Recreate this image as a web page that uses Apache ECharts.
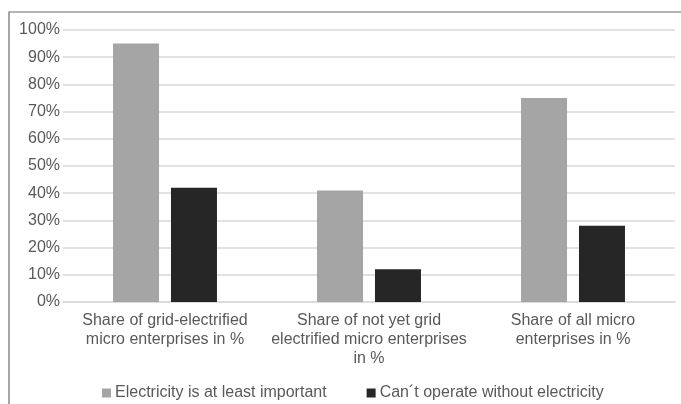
<!DOCTYPE html>
<html><head><meta charset="utf-8">
<script src="https://cdn.jsdelivr.net/npm/echarts@6/dist/echarts.min.js"></script>
<style>html,body{margin:0;padding:0;background:#fff}#c{width:681px;height:404px}</style>
</head><body><div id="c"></div>
<script>
const categories = ["Share of grid-electrified\nmicro enterprises in %", "Share of not yet grid\nelectrified micro enterprises\nin %", "Share of all micro\nenterprises in %"];
const seriesNames = ["Electricity is at least important", "Can\u00b4t operate without electricity"];
const importantVals = [95, 41, 75];
const cantOperateVals = [42, 12, 28];
const yTicks = [0, 10, 20, 30, 40, 50, 60, 70, 80, 90, 100];

const chart = echarts.init(document.getElementById('c'));
const font = 'Liberation Sans, Arial, sans-serif';
chart.setOption({
  animation: false,
  graphic: [{
    type: 'rect', shape: {x: 9, y: 12, width: 700, height: 420},
    style: {fill: 'none', stroke: '#6b6b6b', lineWidth: 1.2}, z: -1
  }],
  legend: {
    top: 385, left: 102, itemWidth: 9, itemHeight: 9, itemGap: 40,
    icon: 'rect', padding: 0,
    textStyle: {color: '#595959', fontSize: 16, fontFamily: font, padding: [0, 0, 0, -1]},
    data: seriesNames
  },
  grid: {left: 63, right: 6, top: 30, bottom: 102, containLabel: false},
  xAxis: {
    type: 'category', data: categories,
    axisLine: {lineStyle: {color: '#d9d9d9', width: 1.5}},
    axisTick: {show: false},
    axisLabel: {color: '#595959', fontSize: 16, fontFamily: font, lineHeight: 19, margin: 9, interval: 0}
  },
  yAxis: {
    type: 'value', min: 0, max: 100, interval: 10,
    axisLine: {show: false}, axisTick: {show: false},
    splitLine: {lineStyle: {color: '#d9d9d9', width: 1.5}},
    axisLabel: {color: '#595959', fontSize: 16, fontFamily: font, margin: 3,
      formatter: v => yTicks.includes(v) ? v + '%' : ''}
  },
  series: [
    {name: seriesNames[0], type: 'bar', data: importantVals, barWidth: 46, barGap: '26%', itemStyle: {color: '#a5a5a5'}},
    {name: seriesNames[1], type: 'bar', data: cantOperateVals, barWidth: 46, itemStyle: {color: '#262626'}}
  ]
});
</script></body></html>
